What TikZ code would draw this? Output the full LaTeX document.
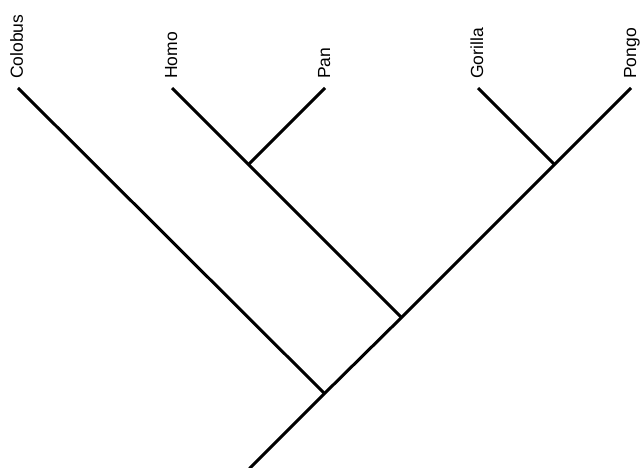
\documentclass[tikz,border=0pt]{standalone}
\usepackage{fontspec}
\setmainfont{Liberation Sans}
\begin{document}
\begin{tikzpicture}[x=1pt,y=-1pt,
  branch/.style={line width=3pt,line cap=butt,line join=miter},
  taxon/.style={rotate=90,anchor=base west,inner sep=0pt,font=\fontsize{17.5}{20}\selectfont}]
\useasboundingbox (0,0) rectangle (643,468);
\coordinate (colobus) at (18,88);
\coordinate (homo) at (172,88);
\coordinate (pan) at (325,88);
\coordinate (gorilla) at (478,88);
\coordinate (pongo) at (631,88);
\coordinate (hp) at (248.5,164.5);
\coordinate (gp) at (554.5,164.5);
\coordinate (hpgp) at (401.5,317.5);
\coordinate (all) at (324.5,393.5);
\coordinate (root) at (249.5,468.5);
\node[taxon] (lcolobus) at (23,79) {Colobus};
\node[taxon] (lhomo) at (177,79) {Homo};
\node[taxon] (lpan) at (330,79) {Pan};
\node[taxon] (lgorilla) at (483,79) {Gorilla};
\node[taxon] (lpongo) at (636,79) {Pongo};
\draw[branch] (homo) -- (hp) -- (hpgp);
\draw[branch] (pan) -- (hp);
\draw[branch] (gorilla) -- (gp);
\draw[branch] (pongo) -- (gp) -- (hpgp) -- (all) -- (root);
\draw[branch] (colobus) -- (all);
\end{tikzpicture}
\end{document}
